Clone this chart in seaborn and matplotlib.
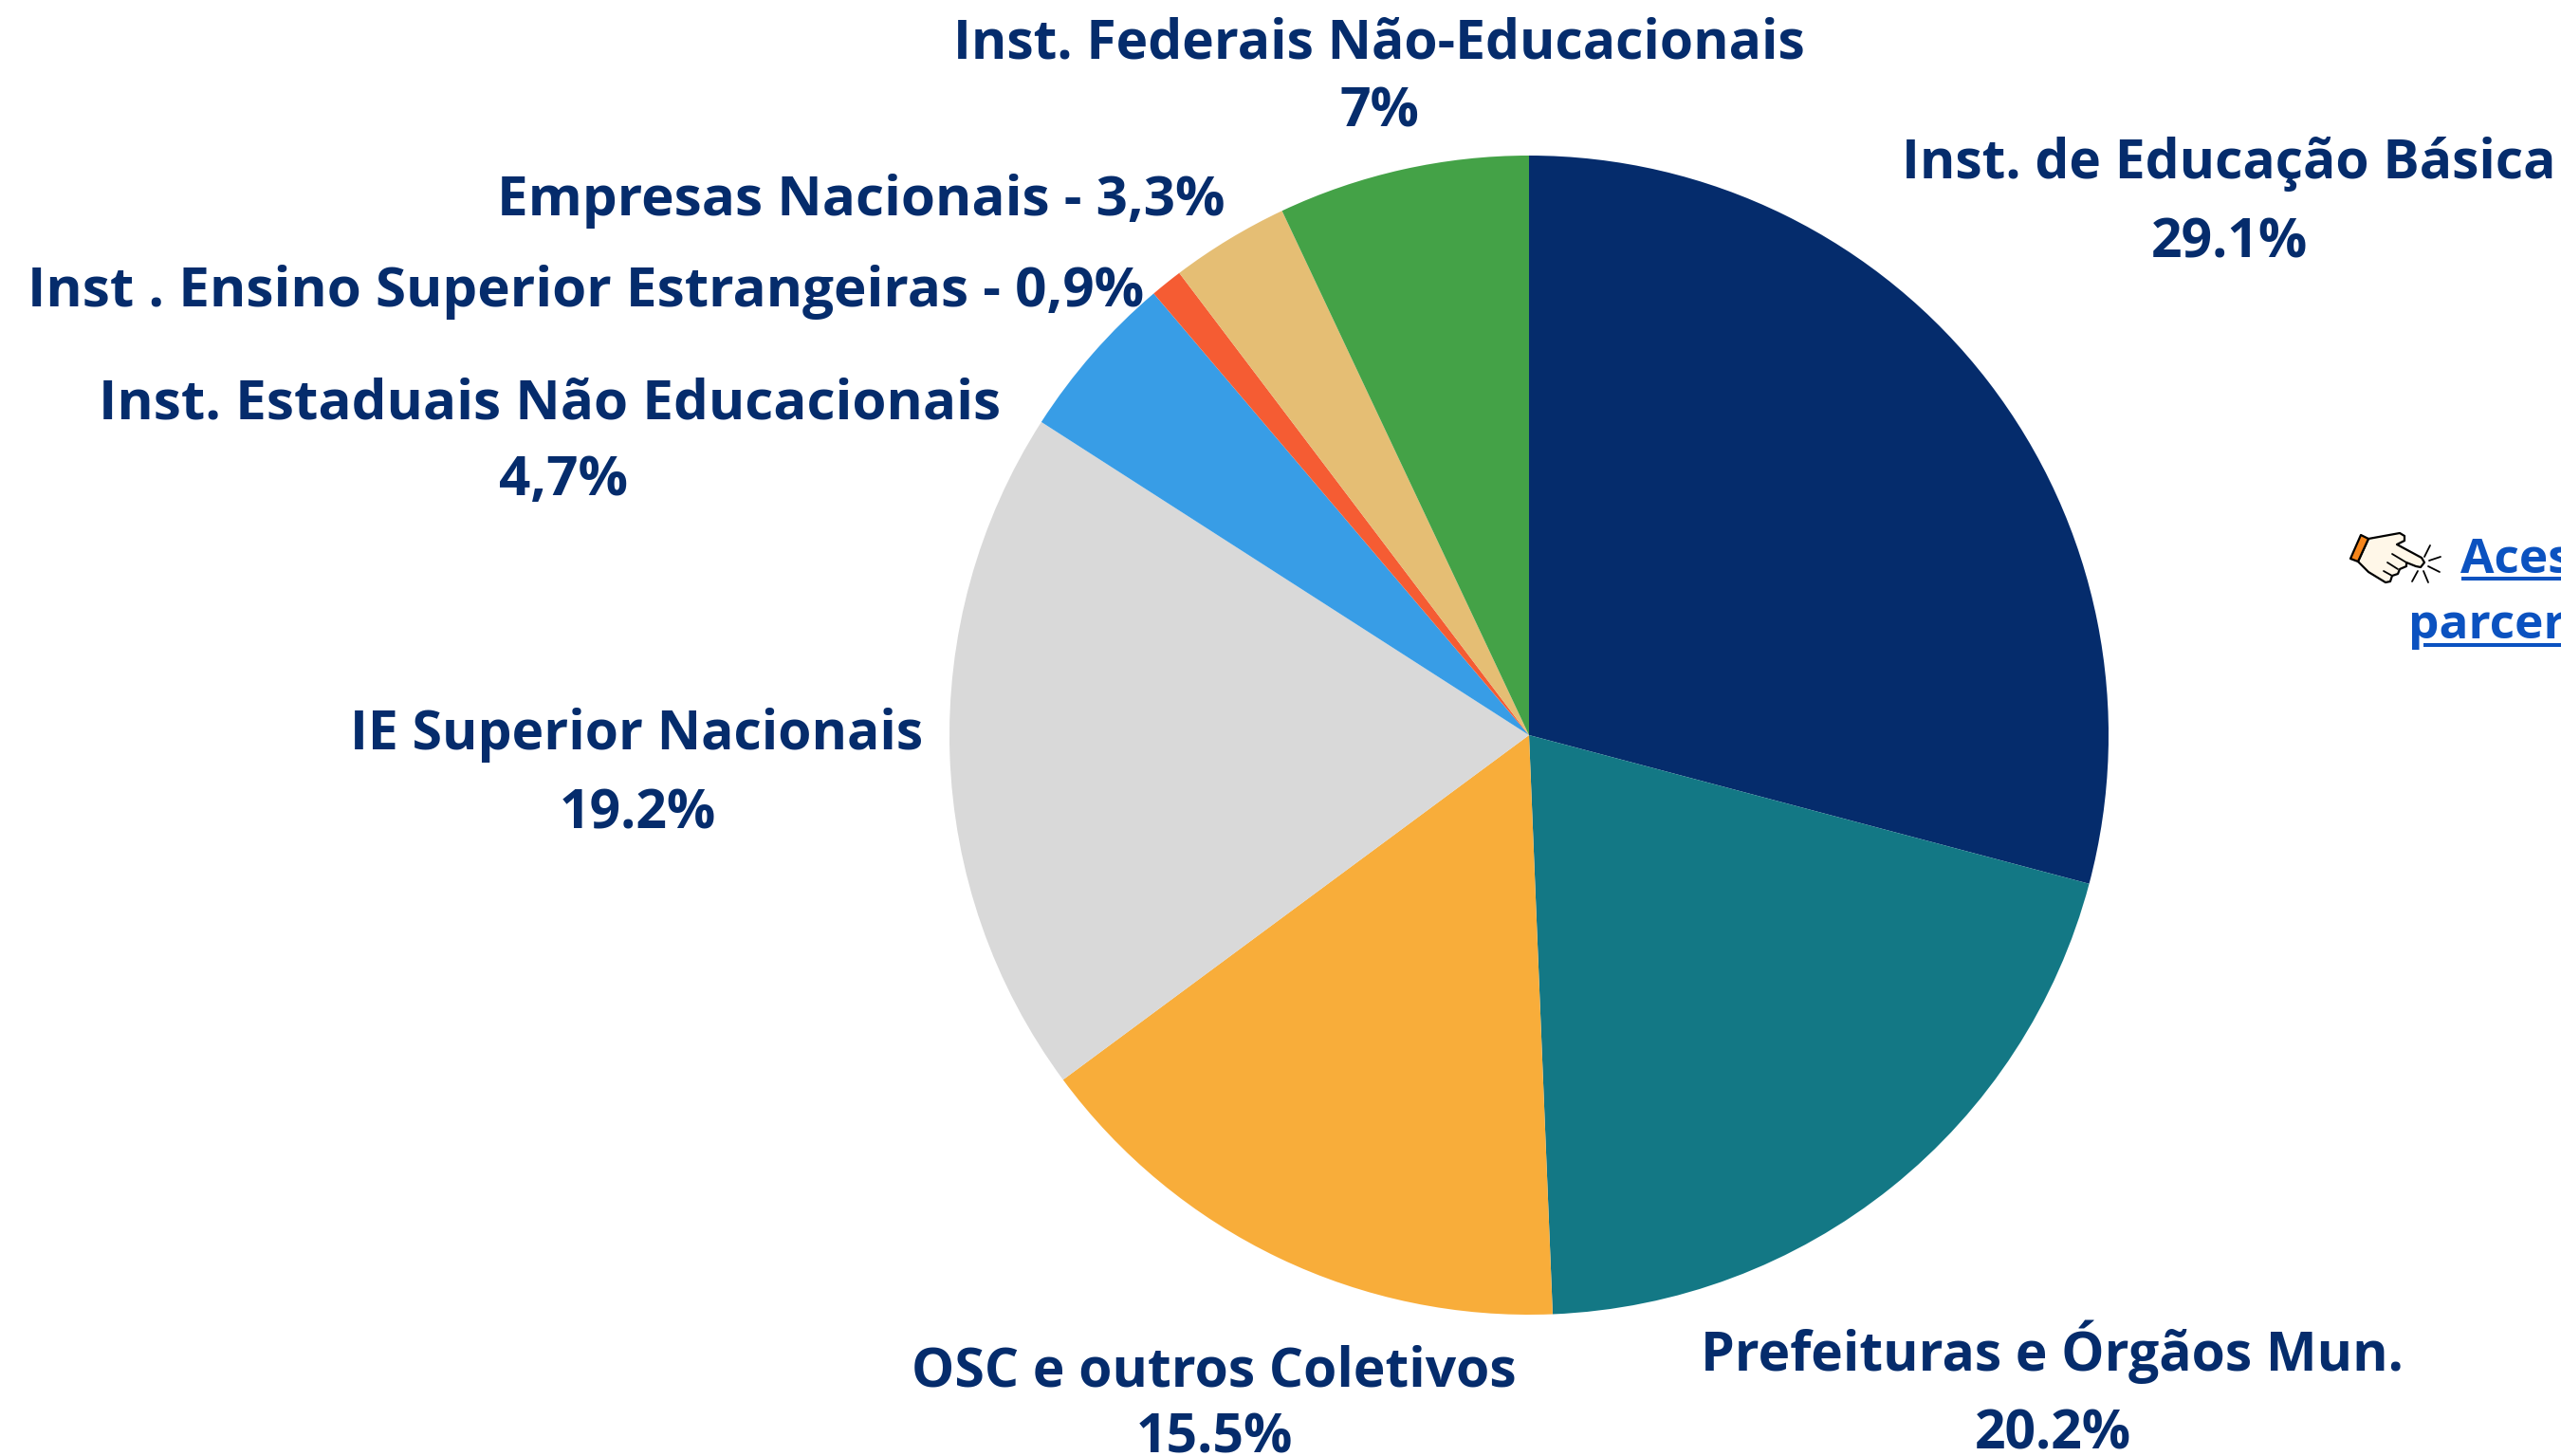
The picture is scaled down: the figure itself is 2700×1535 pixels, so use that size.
"""Parcerias por tipo de instituição - gráfico de pizza"""

import matplotlib.pyplot as plt
from matplotlib.patches import Polygon
import seaborn as sns

categorias = ['Inst. de Educação Básica', 'Prefeituras e Órgãos Mun.', 'OSC e outros Coletivos',
              'IE Superior Nacionais', 'Inst. Estaduais Não Educacionais',
              'Inst . Ensino Superior Estrangeiras', 'Empresas Nacionais',
              'Inst. Federais Não-Educacionais']
valores = [29.1, 20.2, 15.5, 19.2, 4.7, 0.9, 3.3, 7.0]
cores = ['#052C6C', '#137885', '#F8AD3A', '#D9D9D9', '#389DE6', '#F55C33', '#E5BE74', '#44A247']

# cada linha de texto: (texto, x central, y da linha de base, tamanho)
linhas_rotulos = [
    ('Inst. de Educação Básica', 2350, 188, 41), ('29.1%', 2350, 271, 41),
    ('Prefeituras e Órgãos Mun.', 2163, 1445, 41), ('20.2%', 2164, 1528, 41),
    ('OSC e outros Coletivos', 1280, 1462, 41), ('15.5%', 1280, 1532, 41),
    ('IE Superior Nacionais', 671, 790, 41), ('19.2%', 672, 873, 41),
    ('Inst. Estaduais Não Educacionais', 580, 441, 42), ('4,7%', 594, 522, 42),
    ('Inst . Ensino Superior Estrangeiras - 0,9%', 618, 323, 42),
    ('Empresas Nacionais - 3,3%', 908, 227, 42),
    ('Inst. Federais Não-Educacionais', 1454, 62, 41), ('7%', 1454, 133, 41),
]

AZUL = '#052C6C'
LINK = '#0B52C0'
W, H = 2700, 1535

sns.set_theme(style='white')
plt.rcParams['font.family'] = ['Open Sans', 'DejaVu Sans']

fig = plt.figure(figsize=(27, 15.35), dpi=100)
ax = fig.add_axes([0, 0, 1, 1])

ax.pie(valores, colors=sns.color_palette(cores), startangle=90, counterclock=False,
       center=(1612, H - 775), radius=611, frame=True, wedgeprops={'linewidth': 0})
ax.set_xlim(0, W)
ax.set_ylim(0, H)
ax.set_aspect('equal')
ax.axis('off')

for texto, x, y, tam in linhas_rotulos:
    ax.text(x, H - y, texto, ha='center', va='baseline', fontsize=tam, fontweight='bold', color=AZUL)

# link cortado na borda direita
ax.text(2594, H - 604, 'Acesse as', ha='left', va='baseline', fontsize=37, fontweight='bold',
        color=LINK, clip_on=True)
ax.text(2539, H - 673, 'parcerias', ha='left', va='baseline', fontsize=37, fontweight='bold',
        color=LINK, clip_on=True)
ax.plot([2595, 2700], [H - 610, H - 610], color=LINK, lw=2.9, solid_capstyle='butt')
ax.plot([2555, 2700], [H - 680, H - 680], color=LINK, lw=2.9, solid_capstyle='butt')


def px(pontos):
    # converte pixels da imagem para coordenadas do eixo
    return [(x, H - y) for x, y in pontos]


# mãozinha apontando
mao = [(2497, 568), (2530, 562), (2535, 565), (2535, 570), (2527, 574), (2553, 588), (2556, 593),
       (2552, 598), (2547, 597), (2537, 593), (2537, 597), (2530, 600), (2528, 605), (2522, 607),
       (2520, 613), (2515, 614), (2497, 603), (2486, 592)]
ax.add_patch(Polygon(px(mao), closed=True, facecolor='#FFF7E8', edgecolor='black', lw=1.6,
                     joinstyle='round', zorder=3))
ax.add_patch(Polygon(px([(2489, 564), (2497, 568), (2486, 592), (2478, 589)]), closed=True,
                     facecolor='#F7861B', edgecolor='black', lw=1.6, joinstyle='round', zorder=4))
for a, b in [((2522, 584), (2537, 593)), ((2517, 593), (2528, 600)), ((2513, 602), (2522, 607)),
             ((2562, 575), (2556, 587)), ((2573, 587), (2561, 591)), ((2572, 603), (2560, 597)),
             ((2560, 614), (2555, 602)), ((2543, 613), (2549, 602))]:
    ax.plot([a[0], b[0]], [H - a[1], H - b[1]], color='black', lw=1.3, zorder=5)

plt.savefig('out.png', dpi=100)
